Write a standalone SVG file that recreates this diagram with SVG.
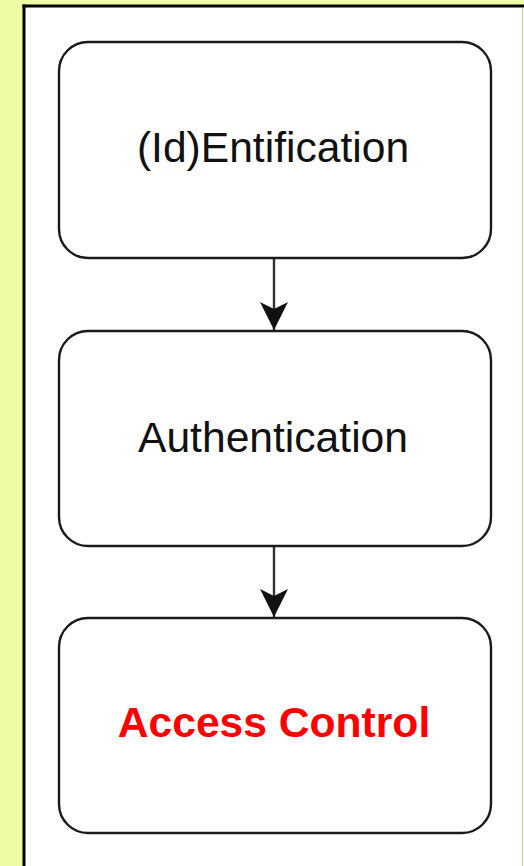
<svg xmlns="http://www.w3.org/2000/svg" width="524" height="866" viewBox="0 0 524 866">
<style>
.box{fill:#fff;stroke:#1a1a1a;stroke-width:2.4}
.lbl{font-family:"Liberation Sans",Arial,sans-serif;font-size:42.6px;fill:#111;text-anchor:middle}
.red{fill:#ff0000;font-weight:bold}
.edge{stroke:#333;stroke-width:2.4;fill:none}
</style>
<defs>
<marker id="arr" markerUnits="userSpaceOnUse" markerWidth="30" markerHeight="32" refX="28" refY="14" orient="auto">
<path d="M0,0 L28,14 L0,28 L7,14 Z" fill="#111"/>
</marker>
</defs>
<rect x="0" y="0" width="524" height="866" fill="#eefca4"/>
<rect x="24" y="6" width="498" height="870" fill="#fff"/>
<line x1="24" y1="4.5" x2="24" y2="866" stroke="#000" stroke-width="3"/>
<line x1="22.5" y1="6" x2="524" y2="6" stroke="#000" stroke-width="3"/>
<line x1="522.5" y1="7.5" x2="522.5" y2="866" stroke="#ccc" stroke-width="1"/>
<g id="connectors">
<line class="edge" x1="274" y1="258" x2="274" y2="330" marker-end="url(#arr)"/>
<line class="edge" x1="274" y1="546" x2="274" y2="617" marker-end="url(#arr)"/>
</g>
<g id="identification">
<rect class="box" x="59" y="42" width="432" height="216" rx="29"/>
<text class="lbl" x="273" y="162">(Id)Entification</text>
</g>
<g id="authentication">
<rect class="box" x="59" y="331" width="432" height="215" rx="29"/>
<text class="lbl" x="273" y="452">Authentication</text>
</g>
<g id="access-control">
<rect class="box" x="59" y="618" width="432" height="215" rx="29"/>
<text class="lbl red" x="274" y="737">Access Control</text>
</g>
</svg>
